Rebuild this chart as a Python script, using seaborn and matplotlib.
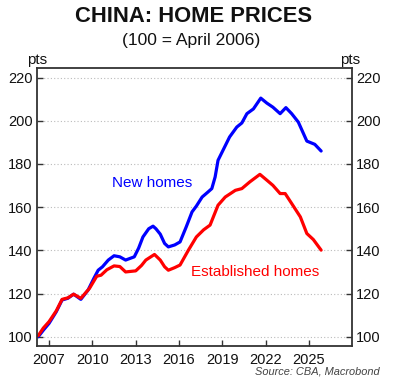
import matplotlib
matplotlib.use("Agg")
import matplotlib.pyplot as plt
import seaborn as sns
import pandas as pd

# ---- data ----
new_years = [2006.25, 2006.6, 2007.0, 2007.5, 2007.9, 2008.3, 2008.7, 2009.2, 2009.7, 2010.1,
             2010.4, 2010.7, 2011.1, 2011.5, 2011.9, 2012.3, 2012.9, 2013.2, 2013.5, 2013.9,
             2014.2, 2014.4, 2014.7, 2015.0, 2015.26, 2015.7, 2016.07, 2016.5, 2016.9, 2017.2,
             2017.6, 2018.0, 2018.27, 2018.5, 2018.7, 2019.1, 2019.5, 2020.0, 2020.35, 2020.7,
             2021.15, 2021.66, 2022.08, 2022.5, 2023.0, 2023.4, 2023.8, 2024.26, 2024.85, 2025.4,
             2025.84]
new_homes = [100.0, 103.0, 106.2, 111.6, 117.0, 117.8, 119.7, 117.3, 121.6, 127.0,
             130.8, 132.4, 135.5, 137.5, 137.0, 135.5, 137.0, 141.0, 146.2, 150.0,
             151.2, 150.0, 147.5, 143.2, 141.6, 142.5, 143.9, 150.9, 157.8, 160.5,
             164.7, 167.0, 168.6, 174.0, 181.7, 187.1, 192.5, 197.1, 199.0, 203.3,
             205.5, 210.5, 208.2, 206.3, 203.3, 206.1, 203.3, 199.4, 190.6, 189.1,
             186.0]

est_years = [2006.25, 2006.6, 2007.0, 2007.5, 2007.9, 2008.3, 2008.7, 2009.2, 2009.8, 2010.3,
             2010.6, 2011.0, 2011.5, 2011.9, 2012.3, 2013.0, 2013.4, 2013.7, 2014.3, 2014.7,
             2015.0, 2015.26, 2015.7, 2016.07, 2016.65, 2017.2, 2017.7, 2018.15, 2018.7, 2019.2,
             2019.9, 2020.35, 2020.9, 2021.6, 2022.08, 2022.5, 2023.0, 2023.35, 2023.8, 2024.4,
             2024.85, 2025.3, 2025.84]
established_homes = [100.5, 104.0, 107.0, 112.0, 117.3, 118.0, 119.7, 117.8, 122.4, 128.0,
                     128.5, 131.0, 132.8, 132.5, 130.0, 130.5, 133.0, 135.5, 138.1, 135.5,
                     132.4, 130.8, 132.0, 133.2, 140.1, 146.2, 149.5, 151.7, 160.9, 164.7,
                     167.8, 168.6, 171.7, 175.2, 172.5, 170.1, 166.3, 166.3, 161.7, 155.5,
                     147.8, 145.0, 140.1]

series_names = ["New homes", "Established homes"]
series_colors = ["#0000FF", "#FF0000"]
x_ticks = [2007, 2010, 2013, 2016, 2019, 2022, 2025]
y_ticks = [100, 120, 140, 160, 180, 200, 220]

df = pd.concat([
    pd.DataFrame({"year": new_years, "value": new_homes, "series": series_names[0]}),
    pd.DataFrame({"year": est_years, "value": established_homes, "series": series_names[1]}),
])

sns.set_theme(style="white")
plt.rcParams["font.family"] = ["Liberation Sans", "DejaVu Sans"]

fig = plt.figure(figsize=(4.0, 3.83), dpi=100)
ax = fig.add_axes([0.092, 0.0966, 0.787, 0.725])

sns.lineplot(data=df, x="year", y="value", hue="series", sort=False,
             palette=dict(zip(series_names, series_colors)), linewidth=2.3,
             legend=False, ax=ax)

ax.set_xlim(2006.15, 2027.95)
ax.set_ylim(95.7, 224.3)
ax.set_xticks(x_ticks)
ax.set_xticklabels([str(t) for t in x_ticks])
ax.set_yticks(y_ticks)
ax.set_yticklabels([str(t) for t in y_ticks])
ax.set_xlabel("")
ax.set_ylabel("")

ax.grid(axis="y", linestyle=(0, (1, 2)), color="#BBBBBB", linewidth=0.8)
ax.grid(axis="x", visible=False)
for s in ax.spines.values():
    s.set_color("#333333")
    s.set_linewidth(1.3)

ax.tick_params(axis="x", direction="in", length=4, width=1, color="#333333",
               labelsize=10.5, pad=5, bottom=True, labelcolor="#111111")
ax.tick_params(axis="y", direction="in", length=4, width=1, color="#333333",
               labelsize=10.5, pad=3, left=True, right=True,
               labelleft=True, labelright=True, labelcolor="#111111")

# series labels
ax.text(2014.13, 171.2, "New homes", color=series_colors[0], fontsize=11,
        ha="center", va="center")
ax.text(2021.27, 129.8, "Established homes", color=series_colors[1], fontsize=11,
        ha="center", va="center")

# titles and units
fig.text(0.483, 1 - 17 / 383, "CHINA: HOME PRICES", fontsize=15.8, fontweight="bold",
         ha="center", va="center", color="#111111")
fig.text(0.478, 1 - 41 / 383, "(100 = April 2006)", fontsize=12.6,
         ha="center", va="center", color="#111111")
fig.text(37 / 400, 1 - 60 / 383, "pts", fontsize=10.8, ha="center", va="center", color="#111111")
fig.text(350 / 400, 1 - 60 / 383, "pts", fontsize=10.8, ha="center", va="center", color="#111111")
fig.text(380 / 400, 1 - 372 / 383, "Source: CBA, Macrobond", fontsize=7.9, style="italic",
         ha="right", va="center", color="#444444")

fig.savefig("out.png", dpi=100)
